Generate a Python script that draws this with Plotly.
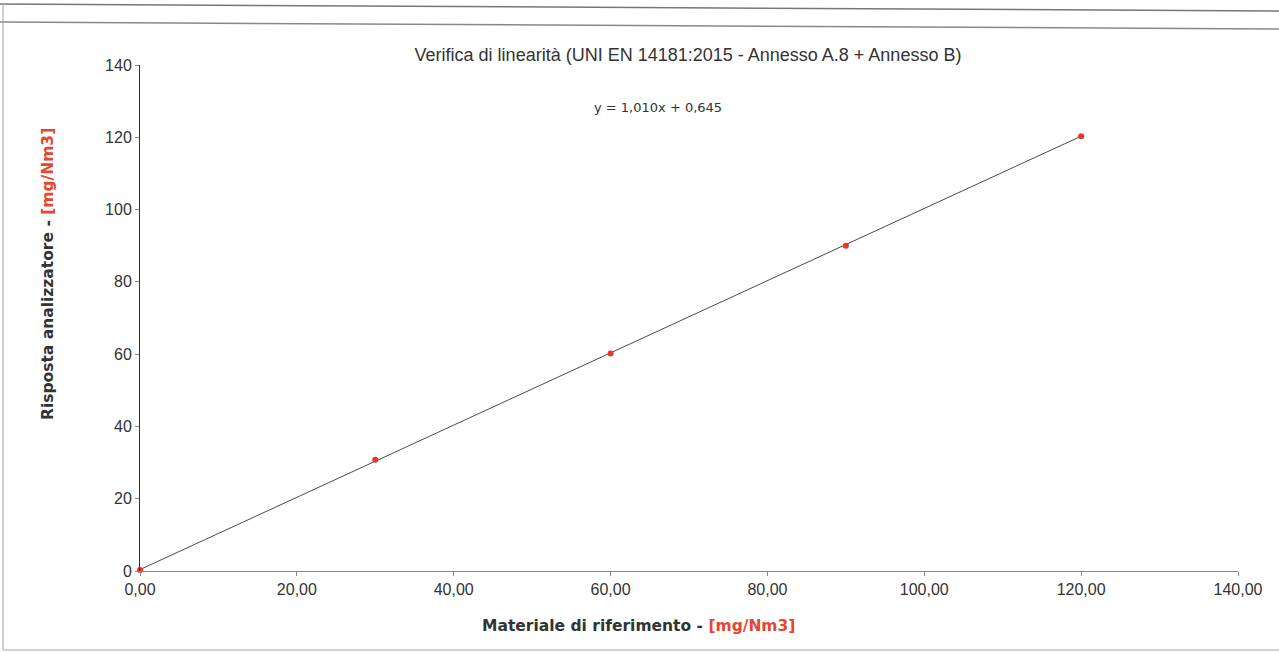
import plotly.graph_objects as go

# Data
x_ref = [0, 30, 60, 90, 120]
y_resp = [0.3, 30.8, 60.2, 90.0, 120.3]
trend_x = [0, 120]
trend_y = [0.4, 120.3]
equation = "y = 1,010x + 0,645"
x_ticks = [0, 20, 40, 60, 80, 100, 120, 140]
y_ticks = [0, 20, 40, 60, 80, 100, 120, 140]

W, H = 1279, 653
L, R, T, B = 140, 41, 65, 82
PW, PH = W - L - R, H - T - B


def px(xp):
    return (xp - L) / PW


def py(yp):
    return (H - B - yp) / PH


fig = go.Figure()
fig.add_trace(go.Scatter(x=trend_x, y=trend_y, mode="lines",
                         line=dict(color="#4a4a4a", width=1), showlegend=False))
fig.add_trace(go.Scatter(x=x_ref, y=y_resp, mode="markers",
                         marker=dict(color="#e8362a", size=6), showlegend=False,
                         cliponaxis=False))

red = "#e8452f"
fig.update_layout(
    width=W, height=H,
    margin=dict(l=L, r=R, t=T, b=B),
    paper_bgcolor="white", plot_bgcolor="white",
    separators=",.",
    title=dict(text="Verifica di linearità (UNI EN 14181:2015 - Annesso A.8 + Annesso B)",
               x=(688) / W, xanchor="center", y=1 - 55 / H, yanchor="middle",
               font=dict(family="Liberation Sans, Arial", size=18, color="#333333")),
    xaxis=dict(range=[0, 140], tickvals=x_ticks, tickformat=".2f",
               showgrid=False, zeroline=False, showline=True, linecolor="#888888",
               linewidth=1, ticks="outside", ticklen=4, tickcolor="#888888",
               tickfont=dict(family="Liberation Sans, Arial", size=16, color="#333333")),
    yaxis=dict(range=[0, 140], tickvals=y_ticks,
               showgrid=False, zeroline=False, showline=True, linecolor="#333333",
               linewidth=1, ticks="outside", ticklen=4, tickcolor="#888888",
               tickfont=dict(family="Liberation Sans, Arial", size=16, color="#333333")),
    font=dict(family="DejaVu Sans"),
)

# axis titles
fig.add_annotation(text="<b>Materiale di riferimento - <span style='color:%s'>[mg/Nm3]</span></b>" % red,
                   x=px(638), y=py(626), xref="paper", yref="paper",
                   xanchor="center", yanchor="middle", showarrow=False,
                   font=dict(family="DejaVu Sans", size=15.5, color="#333333"))
fig.add_annotation(text="<b>Risposta analizzatore - <span style='color:%s'>[mg/Nm3]</span></b>" % red,
                   x=px(48), y=py(274), xref="paper", yref="paper", textangle=-90,
                   xanchor="center", yanchor="middle", showarrow=False,
                   font=dict(family="DejaVu Sans", size=15.5, color="#333333"))

fig.add_annotation(text=equation, x=px(658), xref="paper",
                   y=py(108), yref="paper", yanchor="middle", xanchor="center",
                   showarrow=False,
                   font=dict(family="DejaVu Sans", size=13, color="#333333"))

# frame lines of the scanned page
fig.add_shape(type="line", xref="paper", yref="paper", x0=px(0), x1=px(W),
              y0=py(4), y1=py(11), line=dict(color="#777777", width=1.5))
fig.add_shape(type="line", xref="paper", yref="paper", x0=px(0), x1=px(W),
              y0=py(22), y1=py(29), line=dict(color="#888888", width=1.5))
fig.add_shape(type="line", xref="paper", yref="paper", x0=px(3), x1=px(3),
              y0=py(650), y1=py(4), line=dict(color="#9aa0c0", width=1))
fig.add_shape(type="line", xref="paper", yref="paper", x0=px(3), x1=px(W),
              y0=py(650), y1=py(650), line=dict(color="#aaaaaa", width=1))

fig.write_html("out.html", config={"displayModeBar": False},
               post_script="document.body.style.margin='0';")
